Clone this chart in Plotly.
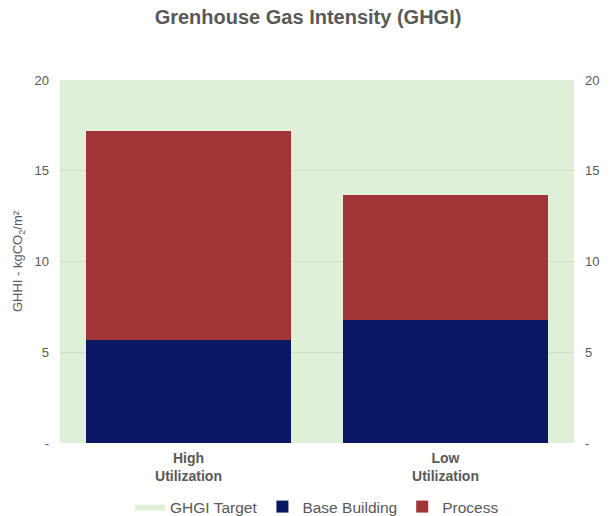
import plotly.graph_objects as go

categories = ["High<br>Utilization", "Low<br>Utilization"]
base_building = [5.7, 6.78]
process = [11.49, 6.87]
ghgi_target = [20, 20]
tick_vals = [0, 5, 10, 15, 20]
tick_text = ["-", "5", "10", "15", "20"]

xs = list(range(len(categories)))
area_x = [xs[0] - 0.5] + xs + [xs[-1] + 0.5]
area_y = [ghgi_target[0]] + ghgi_target + [ghgi_target[-1]]

FONT = "Arial, Liberation Sans, sans-serif"
GRAY = "#595959"

fig = go.Figure()
fig.add_trace(go.Scatter(
    x=area_x, y=area_y, name="GHGI Target", mode="lines",
    fill="tozeroy", fillcolor="rgba(193,223,178,0.5)",
    line=dict(width=0, color="rgba(193,223,178,0.5)"),
    yaxis="y", hoverinfo="skip",
))
fig.add_trace(go.Bar(
    x=xs, y=base_building, name="Base Building",
    marker=dict(color="#0A1864", line=dict(width=0)), yaxis="y2",
))
fig.add_trace(go.Bar(
    x=xs, y=process, name="Process",
    marker=dict(color="#A23537", line=dict(width=0)), yaxis="y2",
))

fig.update_layout(
    width=616, height=516,
    margin=dict(l=60, r=42, t=80, b=73, autoexpand=False),
    paper_bgcolor="white", plot_bgcolor="white",
    barmode="stack", bargap=0.2,
    font=dict(family=FONT, color=GRAY, size=13),
    title=dict(text="<b>Grenhouse Gas Intensity (GHGI)</b>", x=0.5, xanchor="center",
               y=1 - 17 / 516, yanchor="middle", font=dict(size=20, color=GRAY, family=FONT)),
    xaxis=dict(range=[-0.5, 1.5], tickvals=xs,
               ticktext=["<b>" + c + "</b>" for c in categories],
               showgrid=False, zeroline=False, showline=False, ticks="",
               ticklabelstandoff=5,
               tickfont=dict(size=14, color=GRAY)),
    yaxis=dict(range=[0, 20], tickvals=tick_vals, ticktext=tick_text,
               showgrid=True, gridcolor="#dcdcdc", gridwidth=1, zeroline=False,
               showline=False, ticks="", ticklabelstandoff=10,
               title=dict(text="GHHI - kgCO<sub>2</sub>/m²", font=dict(size=13, color=GRAY), standoff=8),
               tickfont=dict(size=13, color=GRAY)),
    yaxis2=dict(range=[0, 20], tickvals=tick_vals, ticktext=tick_text,
                overlaying="y", side="right", showgrid=False, zeroline=False,
                showline=False, ticks="", ticklabelstandoff=10,
                tickfont=dict(size=13, color=GRAY)),
    legend=dict(orientation="h", x=0.5, xanchor="center", yref="container",
                y=(516 - 507) / 516, yanchor="middle",
                traceorder="normal", font=dict(size=15.5, color=GRAY), itemwidth=30),
    showlegend=True,
)

fig.write_html("out.html")
